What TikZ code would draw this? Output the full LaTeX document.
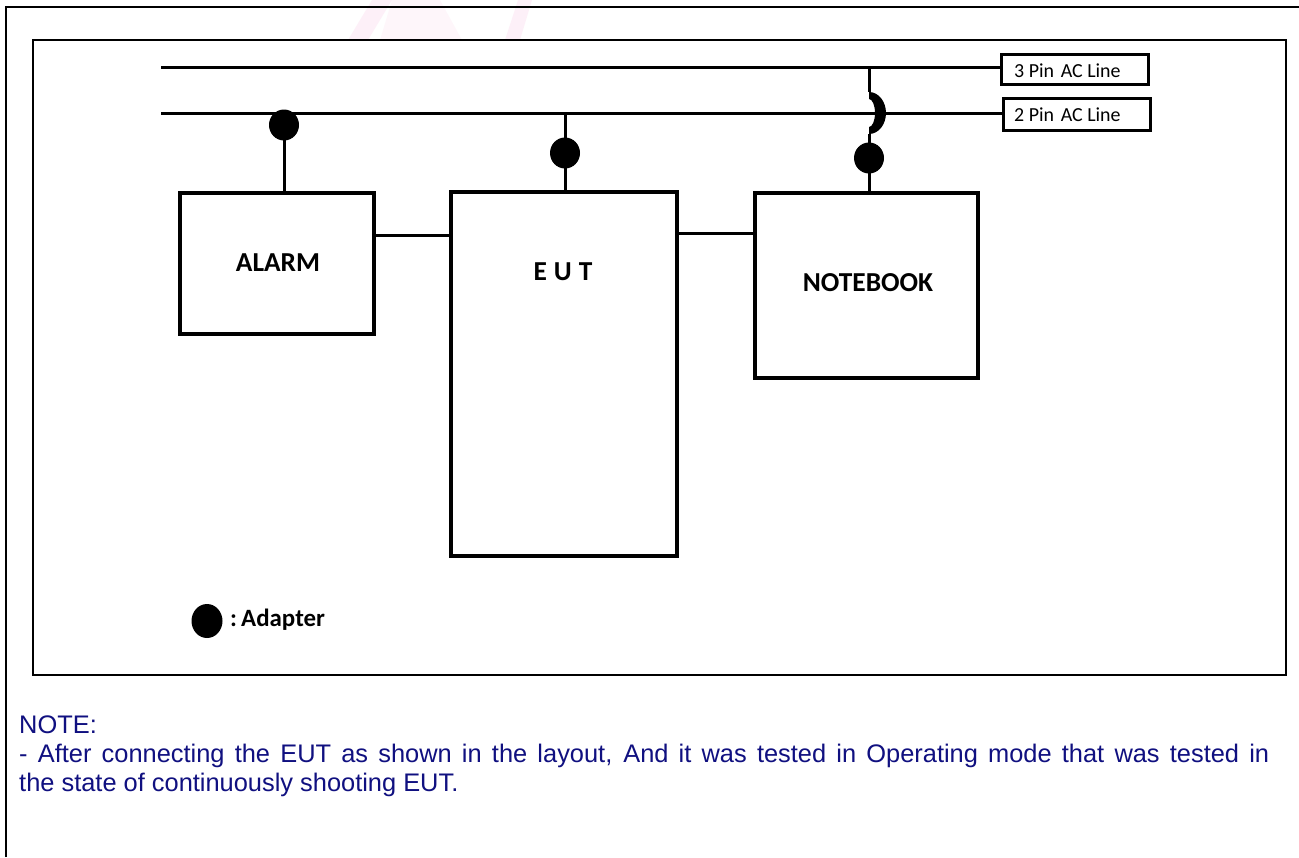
\documentclass[tikz,border=0pt]{standalone}
\usepackage{fontspec}
\setmainfont{Liberation Sans}
\newfontfamily\calfont{Carlito}
\usetikzlibrary{calc,shapes.geometric}
\definecolor{notecol}{RGB}{16,16,128}
\begin{document}
\begin{tikzpicture}[x=1bp,y=-1bp,
  unitbox/.style={draw,line width=3.4bp,inner sep=0pt},
  unitlabel/.style={inner sep=0pt,font=\calfont\bfseries\fontsize{27.5}{30}\selectfont},
  linebox/.style={draw,line width=3bp,inner sep=0pt},
  boxlabel/.style={anchor=base west,inner sep=0pt,font=\calfont\fontsize{20}{22}\selectfont},
  wire/.style={line width=3bp},
  adapter/.style={fill=black,ellipse,minimum width=30bp,minimum height=31bp,inner sep=0pt},
  notetext/.style={anchor=base west,inner sep=0pt,text=notecol,font=\fontsize{25.5}{29}\selectfont},
  logoink/.style={fill=magenta,fill opacity=#1}
]
\useasboundingbox (0,0) rectangle (1299,857);
\fill[white] (0,0) rectangle (1299,857);

% faint logo mark behind the top edge
\fill[logoink=0.06] (348,40) -- (372,0) -- (392,0) -- (368,40) -- cycle;
\fill[logoink=0.035] (392,0) -- (440,0) -- (462,40) -- (380,40) -- cycle;
\fill[logoink=0.06] (505,40) -- (518,0) -- (532,0) -- (520,40) -- cycle;

% page frame and drawing frame
\draw[line width=2bp] (6,857) -- (6,7) -- (1299,7);
\draw[line width=2.4bp] (33,40) rectangle (1286,675);

% equipment
\node[unitbox,minimum width=194bp,minimum height=141bp] (alarm) at (277,263.5) {};
\node[unitlabel] (alarmlabel) at (278,263) {ALARM};
\node[unitbox,minimum width=226bp,minimum height=364bp] (eut) at (564,374) {};
\node[unitlabel] (eutlabel) at (563,272) {E\kern7bp U\kern7bp T};
\node[unitbox,minimum width=223bp,minimum height=185bp] (notebook) at (866.5,285.5) {};
\node[unitlabel] (notebooklabel) at (868,283) {NOTEBOOK};

% supply line tags
\node[linebox,minimum width=147bp,minimum height=30bp] (pin3) at (1074.5,69.5) {};
\node[boxlabel] (pin3text) at (1014,77) {3 Pin\,\,AC Line};
\node[linebox,minimum width=147bp,minimum height=32bp] (pin2) at (1076.5,114) {};
\node[boxlabel] (pin2text) at (1014,121) {2 Pin\,\,AC Line};

% supply lines
\coordinate (l3) at (161,67);
\coordinate (l2) at (161,113);
\draw[wire] (l3) -- (l3 -| pin3.west);
\draw[wire] (l2) -- (l2 -| pin2.west);

% adapters
\node[adapter] (ad1) at (284,125) {};
\node[adapter] (ad2) at (565,153) {};
\node[adapter] (ad3) at (869,158) {};

% drops from the supply lines
\draw[wire] (ad1.center |- l2) -- (ad1.center |- alarm.north);
\draw[wire] (ad2.center |- l2) -- (ad2.center |- eut.north);
\coordinate (hopc) at (ad3.center |- l2);
\coordinate (hop1) at ($(hopc)+(0,-21)$);
\coordinate (hop2) at ($(hopc)+(0,21)$);
\draw[wire] (ad3.center |- l3) -- (hop1);
% crossing hop over the 2-pin line
\fill (hop1) arc[start angle=-90,end angle=90,x radius=17,y radius=21]
  -- ($(hopc)+(0,14)$) arc[start angle=90,end angle=-90,x radius=6,y radius=14] -- cycle;
\draw[wire] (hop2) -- (ad3.center |- notebook.north);

% data links
\draw[wire] (alarm.east |- 0,235) -- (eut.west |- 0,235);
\draw[wire] (eut.east |- 0,233) -- (notebook.west |- 0,233);

% legend
\node[adapter,minimum width=31bp,minimum height=34bp] (legdot) at (207,621) {};
\node[anchor=base west,inner sep=0pt,font=\calfont\bfseries\fontsize{25}{28}\selectfont] (legtext) at (230,626) {:\,Adapter};

% note
\node[notetext] (n1) at (19,733) {NOTE:};
\node[notetext] (n2) at (19,762) {\makebox[1250bp][s]{- After connecting the EUT as shown in the layout, And it was tested in Operating mode that was tested in}};
\node[notetext] (n3) at (19,791) {the state of continuously shooting EUT.};
\end{tikzpicture}
\end{document}
